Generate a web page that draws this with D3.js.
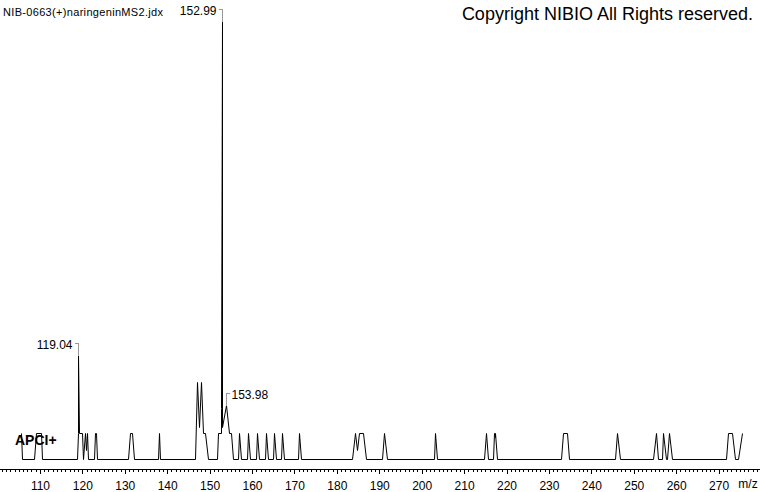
<!DOCTYPE html>
<html>
<head>
<meta charset="utf-8">
<script src="https://cdn.jsdelivr.net/npm/d3@7"></script>
<style>
  body { margin: 0; background: #fff; }
  svg { display: block; }
  text { font-family: "Liberation Sans", Arial, sans-serif; }
</style>
</head>
<body>
<div id="graph"></div>
<script>
// Spectrum trace: m/z and relative intensity (%)
let trace_mz = [
  105.46, 105.70, 108.67, 109.00, 110.18, 110.41,
  118.66, 118.95, 119.04, 119.10, 119.84, 120.15, 120.55, 120.75, 121.00, 121.35, 122.75, 122.95, 123.30, 123.45,
  130.83, 131.23, 131.77, 132.17,
  137.76, 138.07, 138.37,
  146.55, 147.10, 147.50, 147.97, 148.50, 148.91, 149.69,
  151.67, 152.05, 152.69, 152.80, 152.99, 153.02, 153.98, 154.64, 154.98, 155.58,
  156.60, 157.00, 157.40, 158.80, 159.10, 159.50, 160.90, 161.20, 161.60,
  163.00, 163.30, 163.70, 164.90, 165.20, 165.60, 166.80, 167.10, 167.50,
  170.80, 171.10, 171.50,
  183.64, 184.28, 184.82, 185.29, 186.23, 186.80,
  190.71, 191.19, 191.75,
  202.90, 203.21, 203.68,
  214.76, 215.09, 215.71, 216.74, 217.12, 217.25, 217.35, 217.83,
  232.77, 233.25, 234.19, 234.80,
  245.65, 246.12, 246.76,
  254.60, 255.17, 255.70, 256.60, 257.00, 257.50, 257.95, 258.38, 258.95,
  271.75, 272.29, 273.23, 273.87, 274.65, 275.45
];
let trace_int = [
  5.9, 0, 0, 5.9, 5.9, 0,
  0, 5.9, 23.7, 5.9, 5.9, 0, 5.9, 2.0, 5.9, 0, 0, 5.9, 5.9, 0,
  0, 5.9, 5.9, 0,
  0, 5.9, 0,
  0, 17.5, 7.4, 17.5, 5.9, 5.9, 0,
  0, 5.9, 5.9, 11.6, 100, 7.4, 12.3, 5.9, 5.9, 0,
  0, 5.9, 0, 0, 5.9, 0, 0, 5.9, 0,
  0, 5.9, 0, 0, 5.9, 0, 0, 5.9, 0,
  0, 5.9, 0,
  0, 5.9, 2.0, 5.9, 5.9, 0,
  0, 5.9, 0,
  0, 5.9, 0,
  0, 5.9, 0, 0, 5.9, 5.0, 5.9, 0,
  0, 5.9, 5.9, 0,
  0, 5.9, 0,
  0, 5.9, 0, 0, 5.9, 0, 0, 5.9, 0,
  0, 5.9, 5.9, 0, 0, 5.9
];

// Labelled peaks
let peak_mz = [152.99, 119.04, 153.98];
let peak_int = [100, 23.7, 12.3];
let peak_side = ["left", "left", "right"];

let major_ticks = d3.range(110, 271, 10);
let minor_ticks = d3.range(101, 280, 1);

let title_text = "NIB-0663(+)naringeninMS2.jdx";
let copyright_text = "Copyright NIBIO All Rights reserved.";
let mode_text = "APCI+";

let width = 760;
let height = 492;

let xscale = d3.scaleLinear().domain([100.58, 279.76]).range([0, 760]);
let yscale = d3.scaleLinear().domain([0, 100]).range([459, 21]);

let chart = d3.select("#graph")
  .append("svg")
    .attr("width", width)
    .attr("height", height);

// Axis: minor ticks every 1, major every 10
let axisY = 469;
let minor_axis = d3.axisBottom(xscale)
  .tickValues(minor_ticks.filter(d => d % 10 !== 0))
  .tickSize(3)
  .tickSizeOuter(0)
  .tickFormat("");
let major_axis = d3.axisBottom(xscale)
  .tickValues(major_ticks)
  .tickSize(5)
  .tickSizeOuter(0)
  .tickPadding(7);

let gMinor = chart.append("g")
  .attr("transform", "translate(0," + axisY + ")")
  .call(minor_axis);
gMinor.select(".domain").remove();
gMinor.selectAll("line").attr("stroke", "#000").attr("shape-rendering", "crispEdges");

let gMajor = chart.append("g")
  .attr("transform", "translate(0," + axisY + ")")
  .call(major_axis);
gMajor.select(".domain").attr("d", "M0,0.5H760").attr("stroke", "#000").attr("shape-rendering", "crispEdges");
gMajor.selectAll("line").attr("stroke", "#000").attr("shape-rendering", "crispEdges");
gMajor.selectAll("text")
  .attr("fill", "#000")
  .style("font-family", "'Liberation Sans', Arial, sans-serif")
  .style("font-size", "12px");

chart.append("text")
  .attr("x", 748).attr("y", 488)
  .attr("text-anchor", "middle")
  .style("font-size", "12px")
  .text("m/z");

// Spectrum trace
let points = trace_mz.map((m, i) => [m, trace_int[i]]);
let line = d3.line()
  .x(d => Math.round(xscale(d[0])) + 0.5)
  .y(d => Math.round(yscale(d[1])) + 0.5);

chart.append("path")
  .datum(points)
  .attr("d", line)
  .attr("fill", "none")
  .attr("stroke", "#000")
  .attr("stroke-width", 1);

// Peak labels with grey brackets
peak_mz.forEach((m, i) => {
  let px = Math.round(xscale(m)) + 0.5;
  let py = Math.round(yscale(peak_int[i])) + 0.5;
  let ty = py - 12;
  let g = chart.append("g");
  if (peak_side[i] === "left") {
    g.append("path")
      .attr("d", "M" + (px - 4) + "," + ty + "H" + px + "V" + py)
      .attr("fill", "none").attr("stroke", "#999").attr("shape-rendering", "crispEdges");
    g.append("text")
      .attr("x", px - 6).attr("y", ty + 5)
      .attr("text-anchor", "end")
      .style("font-size", "12px")
      .text(m.toFixed(2));
  } else {
    g.append("path")
      .attr("d", "M" + (px + 3) + "," + ty + "H" + px + "V" + py)
      .attr("fill", "none").attr("stroke", "#999").attr("shape-rendering", "crispEdges");
    g.append("text")
      .attr("x", px + 5).attr("y", ty + 5)
      .attr("text-anchor", "start")
      .style("font-size", "12px")
      .text(m.toFixed(2));
  }
});

// Header texts
chart.append("text")
  .attr("x", 3).attr("y", 16)
  .style("font-size", "11px")
  .attr("textLength", 160)
  .text(title_text);

chart.append("text")
  .attr("x", 753).attr("y", 20)
  .attr("text-anchor", "end")
  .style("font-size", "18px")
  .text(copyright_text);

chart.append("text")
  .attr("x", 15).attr("y", 445)
  .style("font-size", "14px")
  .style("font-weight", "bold")
  .text(mode_text);
</script>
</body>
</html>
